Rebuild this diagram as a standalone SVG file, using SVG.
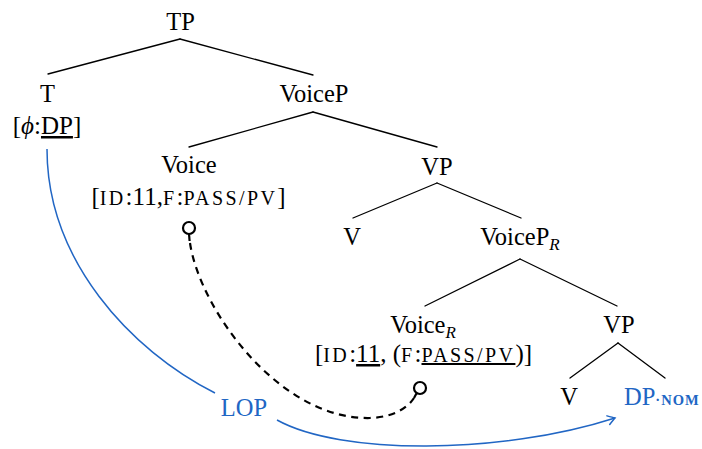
<svg xmlns="http://www.w3.org/2000/svg" width="702" height="449" viewBox="0 0 702 449">
  <style>
    text { font-family: "Liberation Serif", "Times New Roman", "DejaVu Serif", serif; font-size: 24.5px; fill: #000; text-anchor: middle; }
    .feat { font-size: 25px; }
    .sc { font-size: 20px; letter-spacing: 2.4px; }
    .sub { font-size: 17px; font-style: italic; }
    .it { font-style: italic; }
    .ul { text-decoration: underline; }
    .blue { fill: #2166c4; }
    .edge { stroke: #000; stroke-width: 1.3; fill: none; stroke-linecap: round; }
    .probe { stroke: #000; stroke-width: 2.2; fill: none; }
    .dash { stroke: #000; stroke-width: 2.2; fill: none; stroke-dasharray: 7 5.5; }
    .agree { stroke: #2166c4; stroke-width: 1.5; fill: none; }
  </style>
  <defs>
    <marker id="to" viewBox="-9 -6 11 12" markerWidth="11" markerHeight="12" refX="0" refY="0" markerUnits="userSpaceOnUse" orient="auto">
      <path d="M -7 -4.5 Q -2 -1.2 0 0 Q -2 1.2 -7 4.5" stroke="#2166c4" stroke-width="1.5" fill="none" stroke-linecap="round"/>
    </marker>
  </defs>
  <rect width="702" height="449" fill="#fff"/>

  <!-- tree branches -->
  <g id="branches">
    <line class="edge" x1="180" y1="39" x2="48" y2="74"/>
    <line class="edge" x1="180" y1="39" x2="313" y2="75"/>
    <line class="edge" x1="313" y1="112" x2="189" y2="147"/>
    <line class="edge" x1="313" y1="112" x2="437" y2="147"/>
    <line class="edge" x1="437" y1="183" x2="353" y2="218"/>
    <line class="edge" x1="437" y1="183" x2="521" y2="218"/>
    <line class="edge" x1="520" y1="259" x2="425" y2="306"/>
    <line class="edge" x1="520" y1="259" x2="617" y2="306"/>
    <line class="edge" x1="618" y1="343" x2="570" y2="378"/>
    <line class="edge" x1="618" y1="343" x2="665" y2="378"/>
  </g>

  <!-- dependency links -->
  <g id="links">
    <circle class="probe" cx="189" cy="228" r="6"/>
    <line class="probe" x1="189" y1="234" x2="189.6" y2="241"/>
    <path class="dash" d="M 190 243 C 200 310, 280 420, 370 418 C 395 417, 408 407, 414 398"/>
    <line class="probe" x1="414" y1="398" x2="416.6" y2="393.3"/>
    <circle class="probe" cx="420" cy="388" r="6"/>
    <path class="agree" d="M 47 149 C 47 260, 130 350, 215 393"/>
    <path class="agree" d="M 277 420 C 340 455, 500 455, 615 418" marker-end="url(#to)"/>
  </g>

  <g id="TP"><text x="180.5" y="30">TP</text></g>
  <g id="T">
    <text x="47.5" y="102">T</text>
    <text class="feat" x="47" y="134">[<tspan class="it">ϕ</tspan>:<tspan class="ul">DP</tspan>]</text>
  </g>
  <g id="VoiceP"><text x="314" y="102">VoiceP</text></g>
  <g id="Voice">
    <text x="189" y="173">Voice</text>
    <text class="feat" x="188.5" y="205">[<tspan class="sc">ID</tspan>:11,<tspan class="sc">F</tspan>:<tspan class="sc">PASS/PV</tspan>]</text>
  </g>
  <g id="VP"><text x="437" y="175">VP</text></g>
  <g id="V"><text x="352" y="245">V</text></g>
  <g id="VoicePR"><text x="520" y="245">VoiceP<tspan class="sub" dy="5">R</tspan></text></g>
  <g id="VoiceR">
    <text x="423" y="333">Voice<tspan class="sub" dy="5">R</tspan></text>
    <text class="feat" x="423.5" y="362">[<tspan class="sc">ID</tspan>:<tspan class="ul">11</tspan>, (<tspan class="sc">F</tspan>:<tspan class="sc ul">PASS/PV</tspan>)]</text>
  </g>
  <g id="VP2"><text x="619" y="333">VP</text></g>
  <g id="V2"><text x="569" y="405">V</text></g>
  <g id="DPNOM">
    <text class="blue" x="624" y="405" style="text-anchor:start">DP<tspan style="font-size:14.5px;font-weight:bold;letter-spacing:1px">·NOM</tspan></text>
  </g>
  <g id="LOP"><text class="blue" x="244" y="416">LOP</text></g>
</svg>
